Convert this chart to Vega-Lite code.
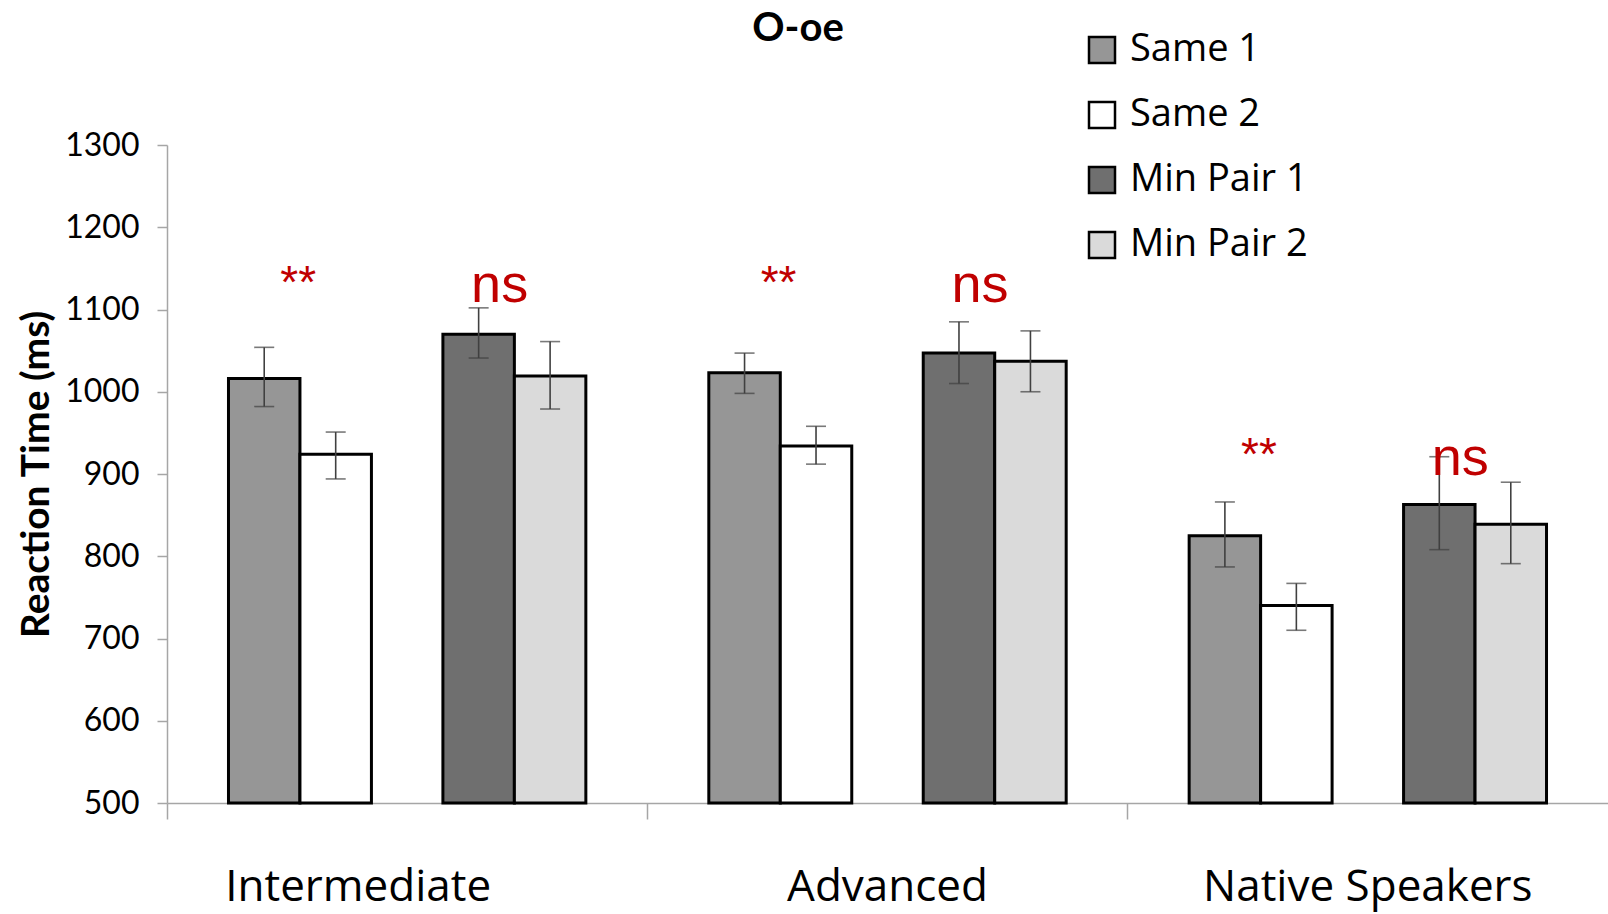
{
  "$schema": "https://vega.github.io/schema/vega-lite/v6.json",
  "autosize": "none",
  "width": 1441,
  "height": 658,
  "padding": {"left": 167, "top": 145, "right": 0, "bottom": 111},
  "background": "white",
  "title": {"text": "O-oe", "font": "Lato", "fontSize": 40, "fontWeight": "bold", "color": "black", "anchor": "middle", "frame": "group", "dx": -89.5, "offset": -50, "baseline": "alphabetic"},
  "config": {
    "view": {"stroke": null},
    "axisY": {
      "grid": false,
      "labelFont": "Lato", "labelFontSize": 32, "labelColor": "black", "labelPadding": 18,
      "tickSize": 10, "tickColor": "#a6a6a6", "tickWidth": 1.5,
      "domainColor": "#a6a6a6", "domainWidth": 1.5,
      "titleFont": "Lato", "titleFontSize": 39, "titleFontWeight": "bold", "titleColor": "black", "titlePadding": 8
    }
  },
  "data": {"values": [
    {"group": "Intermediate", "cond": "Same 1", "rt": 1016, "lo": 982, "hi": 1054},
    {"group": "Intermediate", "cond": "Same 2", "rt": 924, "lo": 894, "hi": 951},
    {"group": "Intermediate", "cond": "Min Pair 1", "rt": 1070, "lo": 1041, "hi": 1102},
    {"group": "Intermediate", "cond": "Min Pair 2", "rt": 1019, "lo": 979, "hi": 1061},
    {"group": "Advanced", "cond": "Same 1", "rt": 1023, "lo": 998, "hi": 1047},
    {"group": "Advanced", "cond": "Same 2", "rt": 934, "lo": 912, "hi": 958},
    {"group": "Advanced", "cond": "Min Pair 1", "rt": 1047, "lo": 1010, "hi": 1085},
    {"group": "Advanced", "cond": "Min Pair 2", "rt": 1037, "lo": 1000, "hi": 1074},
    {"group": "Native Speakers", "cond": "Same 1", "rt": 825, "lo": 787, "hi": 866},
    {"group": "Native Speakers", "cond": "Same 2", "rt": 740, "lo": 710, "hi": 767},
    {"group": "Native Speakers", "cond": "Min Pair 1", "rt": 863, "lo": 808, "hi": 921},
    {"group": "Native Speakers", "cond": "Min Pair 2", "rt": 839, "lo": 791, "hi": 890}
  ]},
  "encoding": {
    "x": {
      "field": "group", "type": "nominal",
      "sort": ["Intermediate", "Advanced", "Native Speakers"],
      "scale": {"paddingInner": 0.256, "paddingOuter": 0.128},
      "axis": {
        "title": null, "labelAngle": 0, "labelLimit": 0,
        "domainColor": "#a6a6a6", "domainWidth": 1.5,
        "tickColor": "#a6a6a6", "tickWidth": 1.5, "tickSize": 16, "bandPosition": -0.172,
        "labelFont": "Open Sans", "labelFontSize": 44, "labelColor": "black",
        "labelBaseline": "alphabetic", "labelPadding": 81,
        "labelOffset": {"condition": {"test": "datum.value === 'Intermediate'", "value": -49}, "value": 0}
      }
    },
    "xOffset": {
      "field": "cond", "type": "nominal",
      "scale": {"domain": ["Same 1", "Same 2", "gap", "Min Pair 1", "Min Pair 2"], "paddingInner": 0, "paddingOuter": 0}
    }
  },
  "layer": [
    {
      "mark": {"type": "bar", "stroke": "black", "strokeWidth": 3},
      "encoding": {
        "y": {"field": "rt", "type": "quantitative", "title": "Reaction Time (ms)",
              "scale": {"domain": [500, 1300], "nice": false, "zero": false},
              "axis": {"values": [500, 600, 700, 800, 900, 1000, 1100, 1200, 1300], "format": "d"}},
        "y2": {"datum": 500},
        "color": {
          "field": "cond", "type": "nominal",
          "scale": {"domain": ["Same 1", "Same 2", "Min Pair 1", "Min Pair 2"], "range": ["#969696", "#ffffff", "#6f6f6f", "#dadada"]},
          "legend": {
            "title": null, "orient": "none", "legendX": 916, "legendY": -114,
            "symbolType": "square", "symbolSize": 676, "symbolStrokeColor": "black", "symbolStrokeWidth": 2.5, "symbolOpacity": 1,
            "labelFont": "Open Sans", "labelFontSize": 38, "labelColor": "black", "labelOffset": 9, "labelLimit": 0,
            "rowPadding": 27, "padding": 0
          }
        }
      }
    },
    {
      "mark": {"type": "rule", "color": "#404040", "strokeWidth": 1.6},
      "encoding": {
        "y": {"field": "lo", "type": "quantitative", "title": "Reaction Time (ms)"},
        "y2": {"field": "hi"}
      }
    },
    {
      "mark": {"type": "tick", "color": "#404040", "thickness": 1.6, "size": 20},
      "encoding": {"y": {"field": "hi", "type": "quantitative", "title": "Reaction Time (ms)"}}
    },
    {
      "mark": {"type": "tick", "color": "#404040", "thickness": 1.6, "size": 20},
      "encoding": {"y": {"field": "lo", "type": "quantitative", "title": "Reaction Time (ms)"}}
    },
    {
      "data": {"values": [
        {"group": "Intermediate", "cond": "Same 1", "label": "**", "y": 1114},
        {"group": "Advanced", "cond": "Same 1", "label": "**", "y": 1114},
        {"group": "Native Speakers", "cond": "Same 1", "label": "**", "y": 905}
      ]},
      "mark": {"type": "text", "font": "Liberation Sans", "fontSize": 46, "color": "#c00000", "baseline": "alphabetic", "align": "center", "dx": 34},
      "encoding": {
        "y": {"field": "y", "type": "quantitative", "title": "Reaction Time (ms)"},
        "text": {"field": "label"}
      }
    },
    {
      "data": {"values": [
        {"group": "Intermediate", "cond": "Min Pair 1", "label": "ns", "y": 1109},
        {"group": "Advanced", "cond": "Min Pair 1", "label": "ns", "y": 1109},
        {"group": "Native Speakers", "cond": "Min Pair 1", "label": "ns", "y": 899}
      ]},
      "mark": {"type": "text", "font": "Liberation Sans", "fontSize": 54, "color": "#c00000", "baseline": "alphabetic", "align": "center", "dx": 21},
      "encoding": {
        "y": {"field": "y", "type": "quantitative", "title": "Reaction Time (ms)"},
        "text": {"field": "label"}
      }
    }
  ]
}
